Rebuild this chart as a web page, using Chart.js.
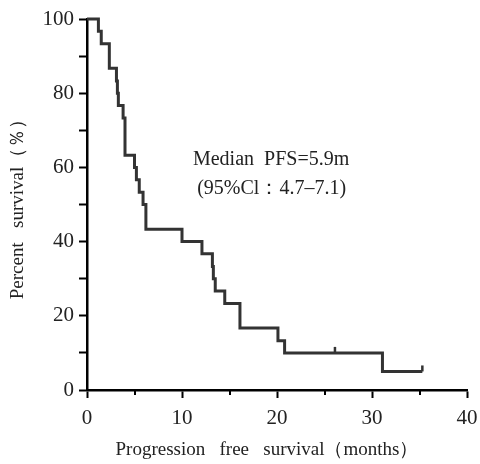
<!DOCTYPE html>
<html>
<head>
<meta charset="utf-8">
<script src="https://cdn.jsdelivr.net/npm/chart.js@4.4.1/dist/chart.umd.min.js"></script>
<style>
  html, body { margin: 0; padding: 0; background: #fff; }
  #wrap { width: 480px; height: 464px; }
</style>
</head>
<body>
<div id="wrap"><canvas id="km"></canvas></div>
<script>
// Kaplan-Meier PFS curve (months vs % survival)
const months = [0, 1.2, 1.5, 2.35, 3.1, 3.2, 3.3, 3.8, 4.0, 5.0, 5.2, 5.5, 5.9, 6.2, 10.0, 12.1, 13.2, 13.3, 13.5, 14.5, 16.1, 20.1, 20.8, 31.1, 35.3];
const survival = [100, 96.7, 93.3, 86.7, 83.3, 80, 76.7, 73.3, 63.3, 60, 56.7, 53.3, 50, 43.3, 40, 36.7, 33.3, 30, 26.7, 23.3, 16.7, 13.3, 10, 5, 5];
const censorMonths = [26.1, 35.3];
const censorSurvival = [10, 5];
const minorXTicks = [5, 15, 25, 35];
const noteLines = ['Median  PFS=5.9m', '(95%Cl\uFF1A4.7\u20137.1)'];

const serif = '"Liberation Serif", "Times New Roman", serif';
const ink = '#333333';

const curve = months.map((m, i) => ({ x: m, y: survival[i] }));
const censored = censorMonths.map((m, i) => ({ x: m, y: censorSurvival[i] }));

// short minor ticks on the x axis + the median text
const extras = {
  id: 'extras',
  afterDraw(chart) {
    const { ctx, scales: { x, y } } = chart;
    ctx.save();
    ctx.strokeStyle = '#000';
    ctx.lineWidth = 2;
    minorXTicks.forEach(v => {
      const px = Math.round(x.getPixelForValue(v));
      ctx.beginPath();
      ctx.moveTo(px, y.bottom);
      ctx.lineTo(px, y.bottom + 5);
      ctx.stroke();
    });
    ctx.fillStyle = '#222';
    ctx.font = '20px ' + serif;
    ctx.textBaseline = 'alphabetic';
    ctx.fillText(noteLines[0], x.getPixelForValue(11.15), y.getPixelForValue(60.6));
    ctx.fillText(noteLines[1], x.getPixelForValue(11.6), y.getPixelForValue(52.8));
    ctx.restore();
  }
};

new Chart(document.getElementById('km'), {
  data: {
    datasets: [
      {
        type: 'line',
        data: curve,
        stepped: true,
        borderColor: ink,
        borderWidth: 3,
        pointRadius: 0,
        fill: false,
        clip: 6
      },
      {
        type: 'scatter',
        data: censored,
        pointStyle: 'dash',
        rotation: -90,
        radius: 6,
        borderColor: ink,
        borderWidth: 2.5,
        clip: 8
      }
    ]
  },
  options: {
    responsive: true,
    maintainAspectRatio: false,
    animation: false,
    events: [],
    layout: { padding: { left: 3, right: 13, top: 19, bottom: 0 } },
    plugins: { legend: { display: false }, tooltip: { enabled: false } },
    scales: {
      x: {
        type: 'linear',
        min: 0,
        max: 40,
        afterFit: s => { s.height = 74; s.paddingLeft = 0; s.paddingRight = 0; },
        ticks: { stepSize: 10, color: '#222', font: { family: serif, size: 21 }, padding: 8, maxRotation: 0 },
        grid: { drawOnChartArea: false, tickLength: 8, tickWidth: 2, tickColor: '#000' },
        border: { color: '#000', width: 2.5 },
        title: {
          display: true,
          align: 'start',
          text: '\u2003\u2002Progression\u2002 free\u2002 survival\uFF08months\uFF09',
          color: '#222',
          font: { family: serif, size: 19 },
          padding: { top: 0, bottom: 3 }
        }
      },
      y: {
        min: 0,
        max: 100,
        afterFit: s => { s.width = 84; },
        ticks: {
          stepSize: 10,
          color: '#222',
          font: { family: serif, size: 21 },
          padding: 5,
          callback: v => (v % 20 === 0 ? v : '')
        },
        grid: { drawOnChartArea: false, tickLength: 8, tickWidth: 2, tickColor: '#000' },
        border: { color: '#000', width: 2.5 },
        title: {
          display: true,
          text: 'Percent\u2002 survival\uFF08\uFF05\uFF09',
          color: '#222',
          font: { family: serif, size: 19 },
          padding: { top: 4, bottom: 0 }
        }
      }
    }
  },
  plugins: [extras]
});
</script>
</body>
</html>
